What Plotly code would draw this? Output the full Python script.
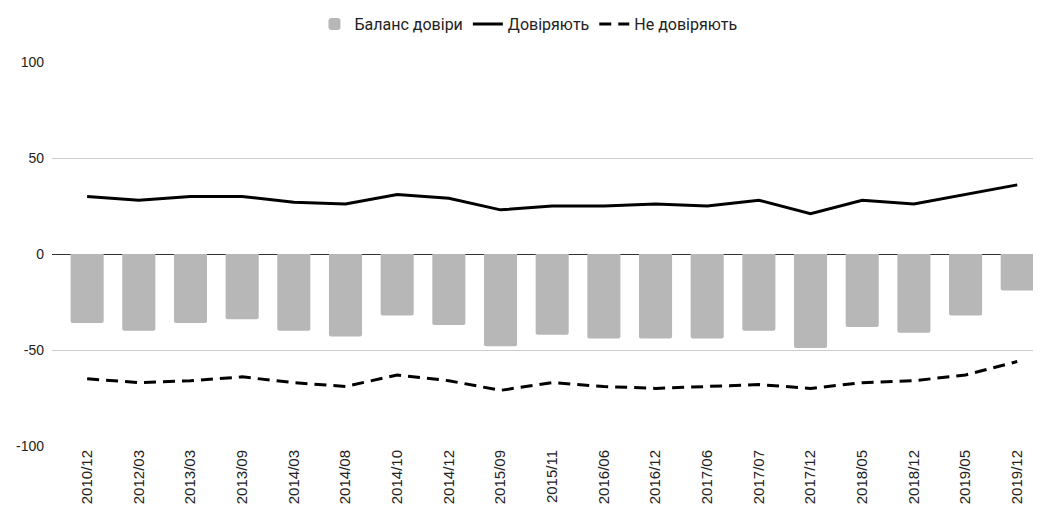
import plotly.graph_objects as go

periods = [
    '2010/12', '2012/03', '2013/03', '2013/09', '2014/03', '2014/08', '2014/10',
    '2014/12', '2015/09', '2015/11', '2016/06', '2016/12', '2017/06', '2017/07',
    '2017/12', '2018/05', '2018/12', '2019/05', '2019/12'
]
trust = [30, 28, 30, 30, 27, 26, 31, 29, 23, 25, 25, 26, 25, 28, 21, 28, 26, 31, 36]
distrust = [-65, -67, -66, -64, -67, -69, -63, -66, -71, -67, -69, -70, -69, -68, -70, -67, -66, -63, -56]
balance = [-36, -40, -36, -34, -40, -43, -32, -37, -48, -42, -44, -44, -44, -40, -49, -38, -41, -32, -19]
y_ticks = [-100, -50, 0, 50, 100]
y_tick_text = ['-100', '-50', '0', '50', '100']

LEGEND_FONT = 'Roboto, Arial, sans-serif'
TICK_FONT = 'Arial, "Liberation Sans", sans-serif'

fig = go.Figure()
fig.add_trace(go.Bar(
    x=periods, y=balance, name='Баланс довіри',
    marker=dict(color='#b7b7b7', cornerradius=2, line=dict(width=0)),
    width=0.64
))
fig.add_trace(go.Scatter(
    x=periods, y=trust, name='Довіряють', mode='lines',
    line=dict(color='#000000', width=3)
))
fig.add_trace(go.Scatter(
    x=periods, y=distrust, name='Не довіряють', mode='lines',
    line=dict(color='#000000', width=3, dash='12px,7px')
))

# page body has an 8px margin, so the plot box is shifted up/left by 8px
fig.update_layout(
    width=1041, height=519,
    margin=dict(l=44, r=8, t=54, b=81, autoexpand=False),
    plot_bgcolor='white', paper_bgcolor='white',
    font=dict(family=TICK_FONT, size=15, color='#222222'),
    showlegend=True,
    legend=dict(
        orientation='h', xref='container', yref='container',
        x=0.500, xanchor='center', y=0.969, yanchor='middle',
        font=dict(family=LEGEND_FONT, size=16, color='#222222'),
        itemwidth=30, traceorder='normal'
    ),
)
fig.update_xaxes(
    type='category', range=[-0.68, 18.46], automargin=False,
    tickangle=-90, showgrid=False, showline=False, ticks='',
    tickfont=dict(family=TICK_FONT, size=15, color='#222222')
)
fig.update_yaxes(
    range=[-100, 100], tickvals=y_ticks, ticktext=y_tick_text, automargin=False,
    showgrid=True, gridcolor='#cccccc', gridwidth=1,
    zeroline=True, zerolinecolor='#333333', zerolinewidth=1,
    ticks='', ticklabelstandoff=7,
    tickfont=dict(family=TICK_FONT, size=14, color='#222222')
)

fig.write_html("out.html")
